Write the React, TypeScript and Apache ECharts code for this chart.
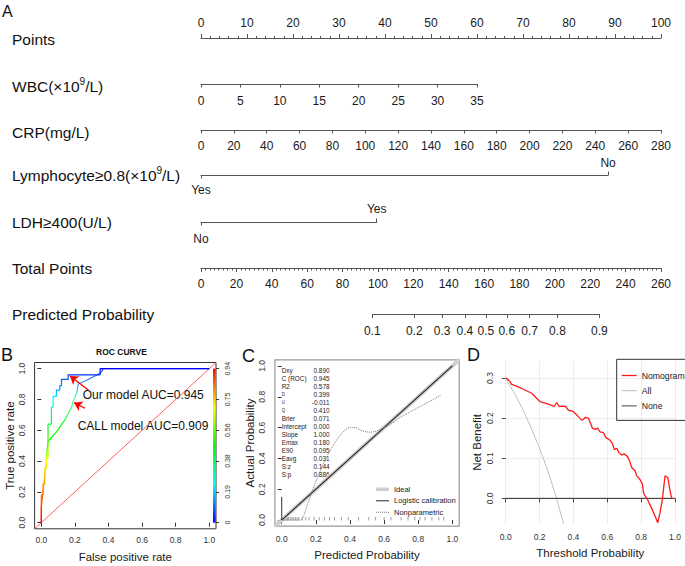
import { useEffect, useRef } from 'react';
import * as echarts from 'echarts';

const FONT = '"Liberation Sans", Arial, Helvetica, sans-serif';
const LINE = '#555';
const TXT = '#1a1a1a';

// ---------------- Panel A: nomogram ----------------
const pointsMax = 100;
const pointsStep = 10;
const wbcMax = 35;
const wbcMaxPoints = 60;
const wbcStep = 5;
const crpMax = 280;
const crpMaxPoints = 100;
const crpStep = 20;
const lymphLevels = ['Yes', 'No'];
const lymphPoints = [0, 88.5];
const ldhLevels = ['No', 'Yes'];
const ldhPoints = [0, 38.2];
const totalMax = 260;
const totalStep = 20;
const probTicks = [0.1, 0.2, 0.3, 0.4, 0.5, 0.6, 0.7, 0.8, 0.9];
const probMidPoints = 161; // total points at p = 0.5
const probPointsPerLogit = 29.2;

// ---------------- Panel B: ROC ----------------
const ourFpr = [0, 0, 0.01, 0.01, 0.02, 0.02, 0.03, 0.03, 0.04, 0.04, 0.06, 0.06, 0.07, 0.07, 0.09, 0.09, 0.11, 0.11, 0.12, 0.12, 0.16, 0.16, 0.35, 0.35, 1];
const ourTpr = [0, 0.18, 0.18, 0.25, 0.25, 0.35, 0.35, 0.42, 0.42, 0.64, 0.64, 0.75, 0.75, 0.82, 0.82, 0.86, 0.86, 0.89, 0.89, 0.93, 0.93, 0.96, 0.96, 1, 1];
const callFpr = [0, 0, 0.01, 0.02, 0.03, 0.04, 0.05, 0.09, 0.14, 0.18, 0.19, 0.21, 0.22, 0.27, 0.35, 0.37, 1];
const callTpr = [0, 0.1, 0.2, 0.3, 0.42, 0.53, 0.54, 0.59, 0.667, 0.75, 0.79, 0.84, 0.9, 0.925, 0.97, 1, 1];
const rocTicks = [0, 0.2, 0.4, 0.6, 0.8, 1];
const colorbarLabels = ['0', '0.19', '0.38', '0.56', '0.75', '0.94'];
const arrowOur = { from: [0.28, 0.862], to: [0.171, 0.953] };
const arrowCall = { from: [0.26, 0.743], to: [0.195, 0.779] };

// ---------------- Panel C: calibration ----------------
const calTicks = [0, 0.2, 0.4, 0.6, 0.8, 1];
const npX = [0.01, 0.06, 0.11, 0.15, 0.2, 0.25, 0.3, 0.35, 0.4, 0.43, 0.47, 0.52, 0.56, 0.6, 0.65, 0.7, 0.8, 0.9, 0.93];
const npY = [0.0, 0.0, 0.0, 0.1, 0.25, 0.38, 0.48, 0.56, 0.6, 0.6, 0.58, 0.57, 0.58, 0.6, 0.63, 0.67, 0.73, 0.79, 0.81];
const rugX = [0.005, 0.01, 0.015, 0.02, 0.03, 0.035, 0.04, 0.05, 0.06, 0.07, 0.08, 0.09, 0.1, 0.12, 0.14, 0.16, 0.19, 0.22, 0.25, 0.28, 0.31, 0.35, 0.39, 0.45, 0.51, 0.55, 0.6, 0.64, 0.7, 0.74, 0.78, 0.81, 0.84, 0.88, 0.92, 0.95];
const spikeHeight = 0.15;
const statNames = ['Dxy', 'C (ROC)', 'R2', 'D', 'U', 'Q', 'Brier', 'Intercept', 'Slope', 'Emax', 'E90', 'Eavg', 'S:z', 'S:p'];
const statValues = ['0.890', '0.945', '0.578', '0.399', '-0.011', '0.410', '0.071', '0.000', '1.000', '0.180', '0.095', '0.031', '0.144', '0.886'];
const smallStats = ['D', 'U', 'Q'];

// ---------------- Panel D: decision curve ----------------
const dcaThreshold = [0, 0.016, 0.026, 0.035, 0.055, 0.094, 0.154, 0.203, 0.252, 0.287, 0.301, 0.315, 0.335, 0.354, 0.37, 0.4, 0.42, 0.433, 0.449, 0.459, 0.472, 0.488, 0.498, 0.512, 0.528, 0.543, 0.557, 0.577, 0.591, 0.616, 0.63, 0.642, 0.656, 0.669, 0.685, 0.699, 0.72, 0.734, 0.744, 0.764, 0.774, 0.793, 0.807, 0.815, 0.839, 0.862, 0.882, 0.898, 0.911, 0.925, 0.941, 0.957, 0.97, 0.98, 0.995];
const dcaNomogram = [0.301, 0.295, 0.291, 0.284, 0.281, 0.274, 0.262, 0.241, 0.235, 0.229, 0.239, 0.229, 0.23, 0.229, 0.22, 0.216, 0.208, 0.202, 0.195, 0.197, 0.202, 0.2, 0.191, 0.175, 0.172, 0.175, 0.166, 0.164, 0.152, 0.145, 0.137, 0.121, 0.125, 0.114, 0.108, 0.111, 0.104, 0.091, 0.077, 0.069, 0.056, 0.047, 0.036, 0.012, -0.004, -0.025, -0.044, -0.061, -0.037, -0.004, 0.056, 0.052, 0.021, 0.0, 0.0];
const dcaAllThreshold = [0, 0.05, 0.1, 0.15, 0.2, 0.25, 0.3, 0.342];
const dcaAll = [0.3, 0.263, 0.222, 0.176, 0.125, 0.067, 0.0, -0.064];
const dcaNoneThreshold = [0, 1];
const dcaNone = [0, 0];
const dcaYTicks = [0, 0.1, 0.2, 0.3];

// ---------------- layout ----------------
const NL = 201;
const NW = 460;
const pxPerPoint = NW / pointsMax;
const pxPerTotal = NW / totalMax;
const rowY = { points: 38, wbc: 84, crp: 130, lymph: 175, ldh: 222, total: 268, prob: 314 };

const toPts = (p: number) => probMidPoints + probPointsPerLogit * Math.log(p / (1 - p));
const fromPts = (v: number) => 1 / (1 + Math.exp(-(v - probMidPoints) / probPointsPerLogit));
const zip = (a: number[], b: number[]) => a.map((v, i) => [v, b[i]]);

const nomoLab = { color: TXT, fontSize: 12, fontFamily: FONT };
const nomoLine = { show: true, lineStyle: { color: LINE, width: 1 } };
const tickStyle = { color: LINE, width: 1 };

// legend icon shapes (horizontal bars of given thickness, or dotted)
const barIcon = (w: number, h: number) => `path://M0,0H${w}V${h}H0Z`;
const dottedIcon = (w: number) => {
  let d = '';
  for (let x = 0; x < w; x += 2) d += `M${x},0H${x + 1}V1H${x}Z`;
  return 'path://' + d;
};

function nomoGrid(top: number, left: number, width: number) {
  return { left, top, width, height: 0, show: false, containLabel: false, outerBoundsMode: 'none' };
}

function buildOption() {
  const probMin = toPts(probTicks[0]);
  const probMax = toPts(probTicks[probTicks.length - 1]);
  const probTickPts = probTicks.map(toPts);

  const grids: any[] = [
    nomoGrid(rowY.points, NL, NW),
    nomoGrid(rowY.wbc, NL, wbcMaxPoints * pxPerPoint),
    nomoGrid(rowY.crp, NL, crpMaxPoints * pxPerPoint),
    nomoGrid(rowY.lymph, NL, lymphPoints[1] * pxPerPoint),
    nomoGrid(rowY.ldh, NL, ldhPoints[1] * pxPerPoint),
    nomoGrid(rowY.total, NL, NW),
    nomoGrid(rowY.prob, NL + probMin * pxPerTotal, (probMax - probMin) * pxPerTotal),
    { left: 34.6, top: 362.5, width: 181.4, height: 166.3, show: true, borderColor: '#333', borderWidth: 1, backgroundColor: 'transparent', containLabel: false, outerBoundsMode: 'none' },
    { left: 274.9, top: 359.8, width: 184.3, height: 166.4, show: true, borderColor: '#999', borderWidth: 1.2, backgroundColor: 'transparent', containLabel: false, outerBoundsMode: 'none' },
    { left: 505.7, top: 360.8, width: 169.3, height: 163.2, show: false, containLabel: false, outerBoundsMode: 'none' },
  ];

  const catFmt = (levels: string[], pts: number[]) => (v: number) => {
    const i = pts.indexOf(v);
    return i >= 0 ? levels[i] : '';
  };

  const xAxes: any[] = [
    { gridIndex: 0, type: 'value', position: 'top', min: 0, max: pointsMax, interval: pointsStep,
      axisLine: nomoLine, axisTick: { show: true, length: 4, lineStyle: tickStyle },
      minorTick: { show: true, splitNumber: 5, length: 2, lineStyle: tickStyle },
      axisLabel: { ...nomoLab, margin: 9 }, splitLine: { show: false } },
    { gridIndex: 1, type: 'value', position: 'bottom', min: 0, max: wbcMax, interval: wbcStep,
      axisLine: nomoLine, axisTick: { show: true, length: 3.5, lineStyle: tickStyle },
      axisLabel: { ...nomoLab, margin: 11 }, splitLine: { show: false } },
    { gridIndex: 2, type: 'value', position: 'bottom', min: 0, max: crpMax, interval: crpStep,
      axisLine: nomoLine, axisTick: { show: true, length: 3.5, lineStyle: tickStyle },
      axisLabel: { ...nomoLab, margin: 10 }, splitLine: { show: false } },
    { gridIndex: 3, type: 'value', position: 'bottom', min: 0, max: lymphPoints[1],
      axisLine: nomoLine, axisTick: { show: true, length: 3.5, lineStyle: tickStyle, customValues: [lymphPoints[0]] },
      axisLabel: { ...nomoLab, margin: 9, customValues: [lymphPoints[0]], formatter: catFmt(lymphLevels, lymphPoints) }, splitLine: { show: false } },
    { gridIndex: 3, type: 'value', position: 'top', min: 0, max: lymphPoints[1],
      axisLine: { show: false }, axisTick: { show: true, length: 3.5, lineStyle: tickStyle, customValues: [lymphPoints[1]] },
      axisLabel: { ...nomoLab, margin: 6, customValues: [lymphPoints[1]], formatter: catFmt(lymphLevels, lymphPoints) }, splitLine: { show: false } },
    { gridIndex: 4, type: 'value', position: 'bottom', min: 0, max: ldhPoints[1],
      axisLine: nomoLine, axisTick: { show: true, length: 3.5, lineStyle: tickStyle, customValues: [ldhPoints[0]] },
      axisLabel: { ...nomoLab, margin: 11, customValues: [ldhPoints[0]], formatter: catFmt(ldhLevels, ldhPoints) }, splitLine: { show: false } },
    { gridIndex: 4, type: 'value', position: 'top', min: 0, max: ldhPoints[1],
      axisLine: { show: false }, axisTick: { show: true, length: 3.5, lineStyle: tickStyle, customValues: [ldhPoints[1]] },
      axisLabel: { ...nomoLab, margin: 7, customValues: [ldhPoints[1]], formatter: catFmt(ldhLevels, ldhPoints) }, splitLine: { show: false } },
    { gridIndex: 5, type: 'value', position: 'bottom', min: 0, max: totalMax, interval: totalStep,
      axisLine: nomoLine, axisTick: { show: true, length: 4, lineStyle: tickStyle },
      minorTick: { show: true, splitNumber: 8, length: 2.5, lineStyle: tickStyle },
      axisLabel: { ...nomoLab, margin: 10 }, splitLine: { show: false } },
    { gridIndex: 6, type: 'value', position: 'bottom', min: probMin, max: probMax,
      axisLine: nomoLine, axisTick: { show: true, length: 4, lineStyle: tickStyle, customValues: probTickPts },
      axisLabel: { ...nomoLab, margin: 11, customValues: probTickPts, formatter: (v: number) => fromPts(v).toFixed(1) }, splitLine: { show: false } },
    // B
    { gridIndex: 7, type: 'value', min: -0.04, max: 1.04, axisLine: { show: false },
      axisTick: { show: true, length: 4, customValues: rocTicks, lineStyle: { color: '#333' } },
      axisLabel: { customValues: rocTicks, formatter: (v: number) => v.toFixed(1), fontSize: 8.5, color: '#333', margin: 7, fontFamily: FONT },
      splitLine: { show: false }, name: 'False positive rate', nameLocation: 'middle', nameGap: 22, nameMoveOverlap: false,
      nameTextStyle: { fontSize: 11.5, color: TXT, fontFamily: FONT } },
    // C
    { gridIndex: 8, type: 'value', min: -0.04, max: 1.04, axisLine: { show: false },
      axisTick: { show: true, length: 4, customValues: calTicks, lineStyle: { color: '#333' } },
      axisLabel: { customValues: calTicks, formatter: (v: number) => v.toFixed(1), fontSize: 8.5, color: '#333', margin: 8, fontFamily: FONT },
      splitLine: { show: false }, name: 'Predicted Probability', nameLocation: 'middle', nameGap: 23, nameMoveOverlap: false,
      nameTextStyle: { fontSize: 11.5, color: TXT, fontFamily: FONT } },
    // D
    { gridIndex: 9, type: 'value', min: 0, max: 1, interval: 0.2,
      axisLine: { show: true, lineStyle: { color: '#444', width: 1 } },
      axisTick: { show: true, length: 4, lineStyle: { color: '#444' } },
      axisLabel: { formatter: (v: number) => v.toFixed(1), fontSize: 8.5, color: '#333', margin: 8, fontFamily: FONT },
      splitLine: { show: true, lineStyle: { color: '#ececec', width: 1 } },
      name: 'Threshold Probability', nameLocation: 'middle', nameGap: 23, nameMoveOverlap: false,
      nameTextStyle: { fontSize: 11.5, color: TXT, fontFamily: FONT } },
  ];

  const yAxes: any[] = [0, 1, 2, 3, 4, 5, 6].map((g) => ({ gridIndex: g, type: 'value', show: false, min: 0, max: 1 }));
  yAxes.push(
    { gridIndex: 7, type: 'value', position: 'left', min: -0.04, max: 1.04, axisLine: { show: false },
      axisTick: { show: true, length: 4, customValues: rocTicks, lineStyle: { color: '#333' } },
      axisLabel: { customValues: rocTicks, rotate: 90, formatter: (v: number) => v.toFixed(1), fontSize: 8.5, color: '#333', margin: 8, fontFamily: FONT },
      splitLine: { show: false }, name: 'True positive rate', nameLocation: 'middle', nameGap: 19, nameMoveOverlap: false,
      nameTextStyle: { fontSize: 11.5, color: TXT, fontFamily: FONT } },
    { gridIndex: 7, type: 'value', position: 'right', min: -0.04, max: 1.04, axisLine: { show: false },
      axisTick: { show: true, length: 3, customValues: rocTicks, lineStyle: { color: '#333' } },
      axisLabel: { customValues: rocTicks, rotate: 90, formatter: (v: number) => colorbarLabels[Math.round(v * 5)], fontSize: 7, color: '#333', margin: 8, fontFamily: FONT },
      splitLine: { show: false } },
    { gridIndex: 8, type: 'value', position: 'left', min: -0.04, max: 1.04, axisLine: { show: false },
      axisTick: { show: true, length: 4, customValues: calTicks, lineStyle: { color: '#333' } },
      axisLabel: { customValues: calTicks, rotate: 90, formatter: (v: number) => v.toFixed(1), fontSize: 8.5, color: '#333', margin: 8, fontFamily: FONT },
      splitLine: { show: false }, name: 'Actual Probability', nameLocation: 'middle', nameGap: 19, nameMoveOverlap: false,
      nameTextStyle: { fontSize: 11.5, color: TXT, fontFamily: FONT } },
    { gridIndex: 9, type: 'value', position: 'left', min: -0.064, max: 0.343, offset: 3, axisLine: { show: false },
      axisTick: { show: true, length: 4, customValues: dcaYTicks, lineStyle: { color: '#444' } },
      axisLabel: { customValues: dcaYTicks, rotate: 90, formatter: (v: number) => v.toFixed(1), fontSize: 8.5, color: '#333', margin: 8, fontFamily: FONT },
      splitLine: { show: true, lineStyle: { color: '#ececec', width: 1 } },
      name: 'Net Benefit', nameLocation: 'middle', nameGap: 20, nameMoveOverlap: false,
      nameTextStyle: { fontSize: 11.5, color: TXT, fontFamily: FONT } },
  );

  const noFx = { silent: true, emphasis: { disabled: true }, symbol: 'none' };

  const series: any[] = [
    // B: diagonal + arrows
    { ...noFx, type: 'line', name: 'diag', xAxisIndex: 9, yAxisIndex: 7, data: [[-0.04, -0.04], [1.04, 1.04]],
      lineStyle: { color: '#ff4d4d', width: 0.9 }, z: 2,
      markLine: { silent: true, symbol: ['none', 'arrow'], symbolSize: 8, label: { show: false },
        lineStyle: { color: '#ff0000', width: 1.3, type: 'solid' }, emphasis: { disabled: true },
        data: [
          [{ coord: arrowOur.from }, { coord: arrowOur.to }],
          [{ coord: arrowCall.from }, { coord: arrowCall.to }],
        ] } },
    { ...noFx, type: 'line', name: 'CALL model', xAxisIndex: 9, yAxisIndex: 7, data: zip(callFpr, callTpr), lineStyle: { width: 1.2 }, z: 3 },
    { ...noFx, type: 'line', name: 'Our model', xAxisIndex: 9, yAxisIndex: 7, data: zip(ourFpr, ourTpr), lineStyle: { width: 1.2 }, z: 4 },
    // C
    { ...noFx, type: 'line', name: 'Ideal', xAxisIndex: 10, yAxisIndex: 9, data: [[-0.04, -0.04], [1.04, 1.04]], lineStyle: { color: '#cfcfcf', width: 4 }, itemStyle: { color: '#cfcfcf' } },
    { ...noFx, type: 'line', name: 'Logistic calibration', xAxisIndex: 10, yAxisIndex: 9, data: [[0, 0], [1, 1]], lineStyle: { color: '#222', width: 1.1 }, itemStyle: { color: '#222' } },
    { ...noFx, type: 'line', name: 'Nonparametric', xAxisIndex: 10, yAxisIndex: 9, data: zip(npX, npY), smooth: 0.3, lineStyle: { color: '#777', width: 1, type: 'dotted' }, itemStyle: { color: '#777' } },
    { ...noFx, type: 'line', name: 'spike', xAxisIndex: 10, yAxisIndex: 9, data: [[0, 0], [0, spikeHeight]], lineStyle: { color: '#333', width: 1 } },
    { silent: true, type: 'scatter', name: 'rug', xAxisIndex: 10, yAxisIndex: 9, data: rugX.map((x) => [x, 0.008]), symbol: 'rect', symbolSize: [1, 3.5], itemStyle: { color: '#888' } },
    // D
    { ...noFx, type: 'line', name: 'All', xAxisIndex: 11, yAxisIndex: 10, data: zip(dcaAllThreshold, dcaAll), smooth: 0.2, lineStyle: { color: '#bdbdbd', width: 1 }, itemStyle: { color: '#bdbdbd' } },
    { ...noFx, type: 'line', name: 'None', xAxisIndex: 11, yAxisIndex: 10, data: zip(dcaNoneThreshold, dcaNone), lineStyle: { color: '#444', width: 1 }, itemStyle: { color: '#444' } },
    { ...noFx, type: 'line', name: 'Nomogram', xAxisIndex: 11, yAxisIndex: 10, data: zip(dcaThreshold, dcaNomogram), lineStyle: { color: '#ff1a1a', width: 1.3 }, itemStyle: { color: '#ff1a1a' } },
  ];

  const rainbowUp = ['#ff0000', '#ff8000', '#ffff00', '#00ff00', '#00ffff', '#0000ff'];
  const callColors = ['#ff0000', '#ff3000', '#ff8000', '#ffc000', '#ffff00', '#00ff00', '#00ff00', '#30ff50', '#60ff90', '#3399ff', '#2040ff'];

  const visualMap: any[] = [
    { type: 'continuous', show: false, seriesIndex: 2, dimension: 1, min: 0, max: 1, inRange: { color: rainbowUp } },
    { type: 'continuous', show: false, seriesIndex: 1, dimension: 1, min: 0, max: 1, inRange: { color: callColors } },
  ];

  const legend: any[] = [
    { show: true, orient: 'vertical', left: 376, top: 485.3, padding: 0, itemWidth: 13, itemHeight: 8, itemGap: 3.5,
      selectedMode: false, itemStyle: { borderWidth: 0 },
      data: [
        { name: 'Ideal', icon: barIcon(13, 3.5), itemStyle: { color: '#cfcfcf', borderWidth: 0 } },
        { name: 'Logistic calibration', icon: barIcon(13, 1), itemStyle: { color: '#222', borderWidth: 0 } },
        { name: 'Nonparametric', icon: dottedIcon(13), itemStyle: { color: '#777', borderWidth: 0 } },
      ],
      textStyle: { fontSize: 7.5, color: TXT, fontFamily: FONT } },
    { show: true, orient: 'vertical', left: 616.7, top: 359.3, padding: [11.7, 8, 10, 5], itemWidth: 15, itemHeight: 10, itemGap: 6.2,
      selectedMode: false, borderColor: '#333', borderWidth: 1, itemStyle: { borderWidth: 0 },
      data: [
        { name: 'Nomogram', icon: barIcon(15, 1.3), itemStyle: { color: '#ff1a1a', borderWidth: 0 } },
        { name: 'All', icon: barIcon(15, 1), itemStyle: { color: '#bdbdbd', borderWidth: 0 } },
        { name: 'None', icon: barIcon(15, 1), itemStyle: { color: '#444', borderWidth: 0 } },
      ],
      textStyle: { fontSize: 8.7, color: TXT, fontFamily: FONT } },
  ];

  const rowText = (y: number, text: string, rich?: any) => ({
    type: 'text', x: 12, y, silent: true,
    style: { text, font: `15.5px ${FONT}`, fill: '#111', verticalAlign: 'middle', align: 'left', rich },
  });
  const richSup = {
    a: { fontSize: 15.5, lineHeight: 20, fontFamily: FONT, fill: '#111', color: '#111' },
    s: { fontSize: 10, lineHeight: 10, verticalAlign: 'top', fontFamily: FONT, fill: '#111', color: '#111' },
  };

  const graphic: any[] = [
    { type: 'text', x: 2, y: 11, silent: true, style: { text: 'A', font: `16px ${FONT}`, fill: '#111', verticalAlign: 'middle' } },
    { type: 'text', x: 1, y: 355, silent: true, style: { text: 'B', font: `18px ${FONT}`, fill: '#111', verticalAlign: 'middle' } },
    { type: 'text', x: 242, y: 356, silent: true, style: { text: 'C', font: `18px ${FONT}`, fill: '#111', verticalAlign: 'middle' } },
    { type: 'text', x: 467, y: 355, silent: true, style: { text: 'D', font: `18px ${FONT}`, fill: '#111', verticalAlign: 'middle' } },
    rowText(rowY.points + 1, 'Points'),
    rowText(rowY.wbc + 2, '{a|WBC(×10}{s|9}{a|/L)}', richSup),
    rowText(rowY.crp + 2, 'CRP(mg/L)'),
    rowText(rowY.lymph, '{a|Lymphocyte≥0.8(×10}{s|9}{a|/L)}', richSup),
    rowText(rowY.ldh, 'LDH≥400(U/L)'),
    rowText(rowY.total, 'Total Points'),
    rowText(rowY.prob, 'Predicted Probability'),
    { type: 'text', x: 121.5, y: 352, silent: true, style: { text: 'ROC CURVE', font: `bold 8.5px ${FONT}`, fill: '#111', align: 'center', verticalAlign: 'middle' } },
    { type: 'text', x: 82.7, y: 395, silent: true, style: { text: 'Our model AUC=0.945', font: `12px ${FONT}`, fill: '#111', verticalAlign: 'middle' } },
    { type: 'text', x: 77.7, y: 426, silent: true, style: { text: 'CALL model AUC=0.909', font: `12px ${FONT}`, fill: '#111', verticalAlign: 'middle' } },
    { type: 'rect', silent: true, shape: { x: 213, y: 368.7, width: 2.6, height: 154 }, z: 10,
      style: { fill: { type: 'linear', x: 0, y: 1, x2: 0, y2: 0, colorStops: [
        { offset: 0, color: '#0000ff' }, { offset: 0.25, color: '#00ffff' }, { offset: 0.5, color: '#00ff00' },
        { offset: 0.75, color: '#ffff00' }, { offset: 1, color: '#ff0000' } ] } } },
  ];
  statNames.forEach((n, i) => {
    const y = 370 + i * 8.02;
    const small = smallStats.includes(n);
    graphic.push({ type: 'text', x: 281.7, y, scaleX: 0.8, silent: true, style: { text: n, font: `${small ? 5.5 : 8}px ${FONT}`, fill: '#222', verticalAlign: 'middle' } });
    graphic.push({ type: 'text', x: 329.5, y, scaleX: 0.8, silent: true, style: { text: statValues[i], font: `8px ${FONT}`, fill: '#222', align: 'right', verticalAlign: 'middle' } });
  });

  return {
    animation: false,
    backgroundColor: '#ffffff',
    textStyle: { fontFamily: FONT },
    grid: grids,
    xAxis: xAxes,
    yAxis: yAxes,
    series,
    visualMap,
    legend,
    graphic,
  };
}

export default function App() {
  const ref = useRef<HTMLDivElement>(null);
  useEffect(() => {
    if (!ref.current) return;
    const chart = echarts.init(ref.current, null, { renderer: 'svg' });
    chart.setOption(buildOption() as any);
    return () => chart.dispose();
  }, []);
  return <div ref={ref} style={{ position: 'fixed', left: 0, top: 0, width: 685, height: 566, background: '#fff' }} />;
}
